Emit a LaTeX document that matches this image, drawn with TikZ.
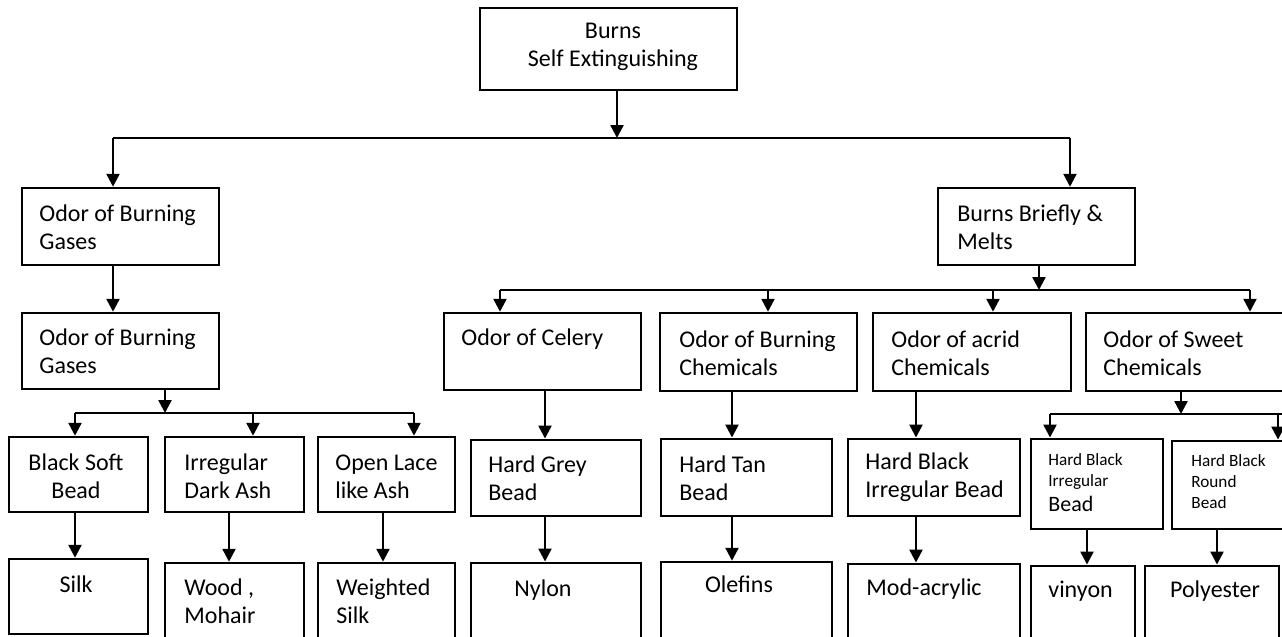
\documentclass[tikz,border=0pt]{standalone}
\usepackage{fontspec}
\setmainfont{Carlito}
\usetikzlibrary{arrows.meta}
\tikzset{
  boxst/.style={draw, line width=1.25pt, inner sep=0pt, fill=none},
  thickbox/.style={boxst, line width=1.45pt},
  txt/.style={inner sep=0pt, align=left, anchor=base west, font=\fontsize{12}{14}\selectfont},
  ctxt/.style={txt, align=center, anchor=base},
  smalltxt/.style={txt, font=\fontsize{8.6}{10.5}\selectfont},
  ln/.style={line width=1.2pt},
  arr/.style={line width=1.2pt, -{Triangle[width=6.5pt,length=6.5pt]}}
}
\newcommand\mkbox[6][boxst]{\node[#1, minimum width={(#5-#3)*0.5pt}, minimum height={(#6-#4)*0.5pt}] (#2) at ({(#3+#5)/2},{(#4+#6)/2}) {};}
\begin{document}
\begin{tikzpicture}[x=0.5pt,y=-0.5pt]
\useasboundingbox[fill=white] (0,0) rectangle (1282,637);
% boxes
\mkbox[thickbox]{top}{480}{8}{737}{90}
\mkbox{og1}{22}{188}{219}{265}
\mkbox{bb}{938}{188}{1135}{265}
\mkbox{og2}{22}{313}{219}{389}
\mkbox{cel}{444}{313}{641}{390}
\mkbox{bch}{660}{313}{857}{391}
\mkbox{acr}{873}{313}{1071}{391}
\mkbox{swt}{1086}{313}{1300}{391}
\mkbox{bsb}{9}{437}{148}{512}
\mkbox{ida}{165}{437}{304}{512}
\mkbox{ola}{318}{437}{455}{512}
\mkbox[thickbox]{hgb}{471}{440}{641}{516}
\mkbox[thickbox]{htb}{661}{439}{832}{516}
\mkbox[thickbox]{hbi}{848}{439}{1020}{516}
\mkbox[thickbox]{hbs}{1031}{439}{1163}{529}
\mkbox[thickbox]{hbr}{1172}{441}{1300}{529}
\mkbox{silk}{9}{559}{148}{634}
\mkbox{wood}{165}{563}{304}{650}
\mkbox{wsilk}{318}{563}{455}{650}
\mkbox[thickbox]{nylon}{471}{563}{641}{650}
\mkbox{olef}{661}{562}{832}{650}
\mkbox[thickbox]{mod}{848}{564}{1020}{650}
\mkbox[thickbox]{vin}{1031}{566}{1135}{650}
\mkbox[thickbox]{poly}{1145}{566}{1279}{650}
% texts (multi-line: anchor at the last line's baseline)
\node[ctxt] (ttop) at (613,67) {Burns\\Self Extinguishing};
\node[txt] (tog1) at (39,249) {Odor of Burning\\Gases};
\node[txt] (tbb) at (957,249) {Burns Briefly \&\\Melts};
\node[txt] (tog2) at (39,373) {Odor of Burning\\Gases};
\node[txt] (tcel) at (461,345) {Odor of Celery};
\node[txt] (tbch) at (679,375) {Odor of Burning\\Chemicals};
\node[txt] (tacr) at (891,375) {Odor of acrid\\Chemicals};
\node[txt] (tswt) at (1103,375) {Odor of Sweet\\Chemicals};
\node[ctxt] (tbsb) at (76,498) {Black Soft\\Bead};
\node[txt] (tida) at (184,498) {Irregular\\Dark Ash};
\node[txt] (tola) at (335,498) {Open Lace\\like Ash};
\node[txt] (thgb) at (488,500) {Hard Grey\\Bead};
\node[txt] (thtb) at (679,500) {Hard Tan\\Bead};
\node[txt] (thbi) at (865,497) {Hard Black\\Irregular Bead};
\node[smalltxt] (thbs) at (1048,511) {Hard Black\\Irregular\\[2pt]{\fontsize{11}{13}\selectfont Bead}};
\node[smalltxt] (thbr) at (1191,508) {Hard Black\\Round\\Bead};
\node[ctxt] (tsilk) at (76,592) {Silk};
\node[txt] (twood) at (184,623) {Wood ,\\Mohair};
\node[txt] (twsilk) at (336,623) {Weighted\\Silk};
\node[ctxt] (tnylon) at (543,596) {Nylon};
\node[ctxt] (tolef) at (739,592) {Olefins};
\node[txt] (tmod) at (866,595) {Mod-acrylic};
\node[txt] (tvin) at (1048,597) {vinyon};
\node[ctxt] (tpoly) at (1215,597) {Polyester};
% level 1
\coordinate (j0) at (617,138);
\coordinate (jL) at (113,138);
\coordinate (jR) at (1070,138);
\draw[arr] (j0 |- top.south) -- (j0);
\draw[ln] (jL) -- (jR);
\draw[arr] (jL) -- (jL |- og1.north);
\draw[arr] (jR) -- (jR |- bb.north);
\draw[arr] (jL |- og1.south) -- (jL |- og2.north);
% left branch
\coordinate (k0) at (165,413);
\coordinate (k1) at (75,413);
\coordinate (k2) at (253,413);
\coordinate (k3) at (414,413);
\draw[arr] (k0 |- og2.south) -- (k0);
\draw[ln] (k1) -- (k3);
\draw[arr] (k1) -- (k1 |- bsb.north);
\draw[arr] (k2) -- (k2 |- ida.north);
\draw[arr] (k3) -- (k3 |- ola.north);
\coordinate (d1) at (75,0);
\coordinate (d2) at (229,0);
\coordinate (d3) at (383,0);
\draw[arr] (d1 |- bsb.south) -- (d1 |- silk.north);
\draw[arr] (d2 |- ida.south) -- (d2 |- wood.north);
\draw[arr] (d3 |- ola.south) -- (d3 |- wsilk.north);
% right branch
\coordinate (m0) at (1039,290);
\coordinate (m1) at (500,290);
\coordinate (m2) at (768,290);
\coordinate (m3) at (993,290);
\coordinate (m4) at (1250,290);
\draw[arr] (m0 |- bb.south) -- (m0);
\draw[ln] (m1) -- (m4);
\draw[arr] (m1) -- (m1 |- cel.north);
\draw[arr] (m2) -- (m2 |- bch.north);
\draw[arr] (m3) -- (m3 |- acr.north);
\draw[arr] (m4) -- (m4 |- swt.north);
\coordinate (e1) at (545,0);
\coordinate (e2) at (732,0);
\coordinate (e3) at (916,0);
\draw[arr] (e1 |- cel.south) -- (e1 |- hgb.north);
\draw[arr] (e2 |- bch.south) -- (e2 |- htb.north);
\draw[arr] (e3 |- acr.south) -- (e3 |- hbi.north);
\draw[arr] (e1 |- hgb.south) -- (e1 |- nylon.north);
\draw[arr] (e2 |- htb.south) -- (e2 |- olef.north);
\draw[arr] (e3 |- hbi.south) -- (e3 |- mod.north);
% sweet branch
\coordinate (n0) at (1181,414);
\coordinate (n1) at (1050,414);
\coordinate (n2) at (1278,414);
\coordinate (nE) at (1290,414);
\draw[arr] (n0 |- swt.south) -- (n0);
\draw[ln] (n1) -- (nE);
\draw[arr] (n1) -- (n1 |- hbs.north);
\draw[arr] (n2) -- (n2 |- hbr.north);
\coordinate (f1) at (1087,0);
\coordinate (f2) at (1217,0);
\draw[arr] (f1 |- hbs.south) -- (f1 |- vin.north);
\draw[arr] (f2 |- hbr.south) -- (f2 |- poly.north);
\end{tikzpicture}
\end{document}
